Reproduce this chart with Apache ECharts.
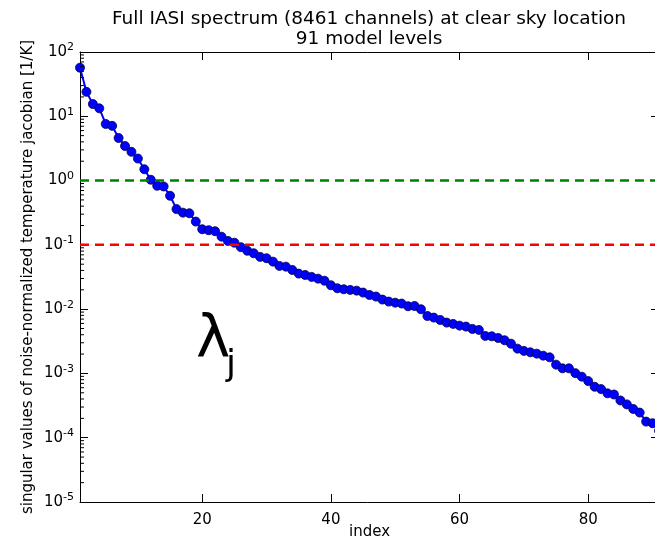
<!DOCTYPE html>
<html><head><meta charset="utf-8">
<script src="https://cdn.jsdelivr.net/npm/echarts@6/dist/echarts.min.js"></script>
<style>html,body{margin:0;padding:0;background:#fff}#c{width:655px;height:536px}</style>
</head><body><div id="c"></div>
<script>
const indices = [1,2,3,4,5,6,7,8,9,10,11,12,13,14,15,16,17,18,19,20,21,22,23,24,25,26,27,28,29,30,
  31,32,33,34,35,36,37,38,39,40,41,42,43,44,45,46,47,48,49,50,51,52,53,54,55,56,57,58,59,60,
  61,62,63,64,65,66,67,68,69,70,71,72,73,74,75,76,77,78,79,80,81,82,83,84,85,86,87,88,89,90,91];
const singularValues = [57,24,15.5,13.3,7.6,7.1,4.6,3.45,2.8,2.2,
  1.5,1.03,0.83,0.81,0.58,0.36,0.317,0.31,0.23,0.175,
  0.169,0.163,0.134,0.115,0.108,0.092,0.081,0.074,0.065,0.062,
  0.0548,0.047,0.0458,0.0407,0.0357,0.034,0.0317,0.0298,0.0277,0.0235,
  0.0211,0.0204,0.0199,0.0194,0.0181,0.0166,0.0157,0.0141,0.0131,0.0126,
  0.0122,0.0111,0.0112,0.00996,0.00783,0.00738,0.00679,0.00617,0.00589,0.00554,
  0.00535,0.00492,0.00475,0.00383,0.00378,0.00356,0.00328,0.0029,0.00243,0.00224,
  0.00213,0.00203,0.00189,0.00178,0.00137,0.0012,0.0012,0.00101,0.00089,0.00076,
  0.00062,0.00057,0.00049,0.00047,0.00038,0.00033,0.00028,0.000246,0.000178,0.000168,
  0.000128];
const thresholdHigh = 1;
const thresholdLow = 0.1;
const xRange = [1, 91];
const yRange = [1e-5, 100];
const xTickValues = [20, 40, 60, 80];
const minorMultipliers = [2,3,4,5,6,7,8,9];
const titleLines = ['Full IASI spectrum (8461 channels) at clear sky location', '91 model levels'];
const xAxisName = 'index';
const yAxisName = 'singular values of noise-normalized temperature jacobian [1/K]';

const minorTickValues = [];
for (let e = -5; e < 2; e++) for (const m of minorMultipliers) minorTickValues.push([xRange[0], m * Math.pow(10, e)]);

const font = 'DejaVu Sans';
const chart = echarts.init(document.getElementById('c'), null, {renderer: 'canvas'});
const yLabelFmt = v => '{b|10}{s|' + Math.round(Math.log10(v)) + '}';
const tickStyle = {color: '#000', width: 1};
chart.setOption({
  animation: false,
  backgroundColor: '#fff',
  textStyle: {fontFamily: font},
  grid: {left: 80, top: 52, width: 579, height: 450, containLabel: false, outerBoundsMode: 'none'},
  graphic: [
    {type: 'text', x: 369, y: 10, style: {text: titleLines[0], font: '18.5px "DejaVu Sans"', fill: '#000', textAlign: 'center'}},
    {type: 'text', x: 369, y: 30, style: {text: titleLines[1], font: '18.5px "DejaVu Sans"', fill: '#000', textAlign: 'center'}},
    {type: 'text', x: 196, y: 313, style: {text: 'λ', font: '58px "DejaVu Sans"', fill: '#000'}},
    {type: 'text', x: 226, y: 348, style: {text: 'j', font: '36px "DejaVu Sans"', fill: '#000'}}
  ],
  xAxis: [{
    type: 'value', min: xRange[0], max: xRange[1], position: 'bottom',
    name: xAxisName, nameLocation: 'middle', nameGap: 23, nameMoveOverlap: false,
    nameTextStyle: {fontSize: 15, color: '#000', fontFamily: font},
    axisLine: {show: true, onZero: false, lineStyle: {color: '#000', width: 1}},
    axisTick: {show: true, inside: true, length: 8, lineStyle: tickStyle, customValues: xTickValues},
    axisLabel: {show: true, color: '#000', fontSize: 15, margin: 11, fontFamily: font, customValues: xTickValues},
    splitLine: {show: false}
  }, {
    type: 'value', min: xRange[0], max: xRange[1], position: 'top',
    axisLine: {show: true, onZero: false, lineStyle: {color: '#000', width: 1}},
    axisTick: {show: true, inside: true, length: 8, lineStyle: tickStyle, customValues: xTickValues},
    axisLabel: {show: false, customValues: xTickValues},
    splitLine: {show: false}
  }],
  yAxis: [{
    type: 'log', logBase: 10, min: yRange[0], max: yRange[1], position: 'left',
    name: yAxisName, nameLocation: 'middle', nameGap: 44, nameRotate: 90, nameMoveOverlap: false,
    nameTextStyle: {fontSize: 15, color: '#000', fontFamily: font},
    axisLine: {show: true, onZero: false, lineStyle: {color: '#000', width: 1}},
    axisTick: {show: true, inside: true, length: 8, lineStyle: tickStyle},
    axisLabel: {show: true, margin: 6, formatter: yLabelFmt,
      rich: {b: {fontSize: 15, color: '#000', fontFamily: font}, s: {fontSize: 11, color: '#000', fontFamily: font, padding: [0, 0, 9, 0]}}},
    splitLine: {show: false}
  }, {
    type: 'log', logBase: 10, min: yRange[0], max: yRange[1], position: 'right',
    axisLine: {show: true, onZero: false, lineStyle: {color: '#000', width: 1}},
    axisTick: {show: true, inside: true, length: 8, lineStyle: tickStyle},
    axisLabel: {show: false},
    splitLine: {show: false}
  }],
  series: [{
    type: 'line', data: indices.map((x, i) => [x, singularValues[i]]),
    symbol: 'circle', symbolSize: 9, showSymbol: true,
    lineStyle: {color: '#0000ff', width: 2},
    itemStyle: {color: '#0000ff', borderColor: '#00004d', borderWidth: 0.8},
    z: 3, silent: true
  }, {
    type: 'line', data: [[xRange[0], thresholdHigh], [xRange[1], thresholdHigh]],
    symbol: 'none', lineStyle: {color: '#008000', width: 2.5, type: [9, 6]}, z: 4, silent: true
  }, {
    type: 'line', data: [[xRange[0], thresholdLow], [xRange[1], thresholdLow]],
    symbol: 'none', lineStyle: {color: '#ff0000', width: 2.5, type: [9, 6]}, z: 4, silent: true
  }, {
    type: 'custom', data: minorTickValues, silent: true, z: 5,
    renderItem: (params, api) => {
      const y = api.coord([api.value(0), api.value(1)])[1];
      const cs = params.coordSys;
      return {type: 'group', children: [
        {type: 'line', shape: {x1: cs.x, y1: y, x2: cs.x + 4, y2: y}, style: {stroke: '#000', lineWidth: 1}},
        {type: 'line', shape: {x1: cs.x + cs.width - 4, y1: y, x2: cs.x + cs.width, y2: y}, style: {stroke: '#000', lineWidth: 1}}
      ]};
    }
  }]
});
</script></body></html>
